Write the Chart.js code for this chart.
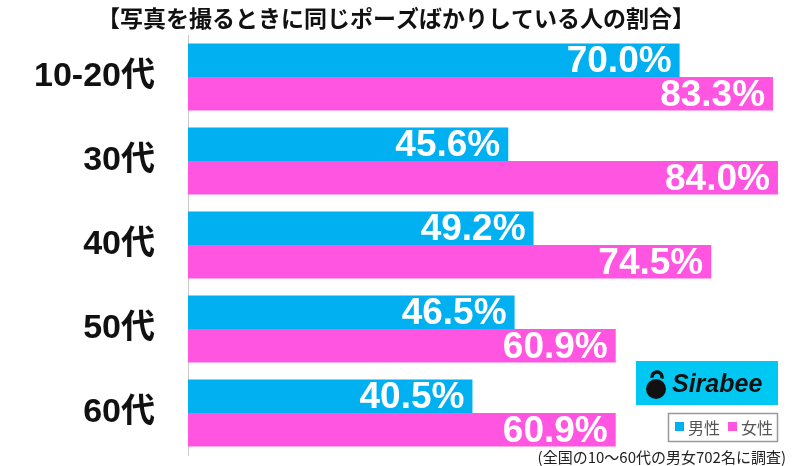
<!DOCTYPE html>
<html>
<head>
<meta charset="utf-8">
<script src="https://cdn.jsdelivr.net/npm/chart.js@4"></script>
<style>
  body { margin: 0; background: #fff; }
  #wrap { width: 800px; height: 466px; }
</style>
</head>
<body>
<div id="wrap"><canvas id="chart"></canvas></div>
<script>
const categories = ['10-20代', '30代', '40代', '50代', '60代']
const male = [70.0, 45.6, 49.2, 46.5, 40.5]
const female = [83.3, 84.0, 74.5, 60.9, 60.9]
const seriesNames = ['男性', '女性']

const title = '【写真を撮るときに同じポーズばかりしている人の割合】'
const note = '(全国の10～60代の男女702名に調査)'
const blue = '#00B0F0'
const pink = '#FF55E1'
const jp = '"Liberation Sans", "Noto Sans CJK JP", sans-serif'

const extras = {
    id: 'extras',
    afterDatasetsDraw(chart) {
        const ctx = chart.ctx
        ctx.save()
        // value labels inside the bar ends
        ctx.font = 'bold 37px ' + jp
        ctx.fillStyle = '#fff'
        ctx.textAlign = 'right'
        ctx.textBaseline = 'middle'
        chart.data.datasets.forEach((ds, i) => {
            chart.getDatasetMeta(i).data.forEach((bar, j) => {
                ctx.fillText(ds.data[j].toFixed(1) + '%', bar.x - 8, bar.y + 2)
            })
        })
        // title
        ctx.fillStyle = '#111'
        ctx.textAlign = 'center'
        ctx.font = 'bold 23px "Noto Sans CJK JP", sans-serif'
        ctx.fillText(title, 396, 18)
        // sirabee logo
        ctx.fillStyle = '#00C8F2'
        ctx.fillRect(636, 361, 142, 44)
        ctx.fillStyle = '#111'
        ctx.beginPath()
        ctx.arc(656, 389, 10, 0, Math.PI * 2)
        ctx.fill()
        ctx.lineWidth = 3.5
        ctx.strokeStyle = '#111'
        ctx.beginPath()
        ctx.arc(657, 377, 5, Math.PI * 0.95, Math.PI * 2.1)
        ctx.stroke()
        ctx.textAlign = 'left'
        ctx.font = 'italic bold 25px "Liberation Sans", sans-serif'
        ctx.fillText('Sirabee', 672, 385)
        // legend box
        ctx.strokeStyle = '#999'
        ctx.lineWidth = 1.5
        ctx.strokeRect(668.5, 413.5, 109, 28)
        ctx.font = '16px "Noto Sans CJK JP", sans-serif'
        ctx.fillStyle = blue
        ctx.fillRect(675, 422, 9, 9)
        ctx.fillStyle = '#555'
        ctx.fillText(seriesNames[0], 688, 428)
        ctx.fillStyle = pink
        ctx.fillRect(728, 422, 9, 9)
        ctx.fillStyle = '#555'
        ctx.fillText(seriesNames[1], 741, 428)
        // footnote
        ctx.fillStyle = '#222'
        ctx.textAlign = 'right'
        ctx.font = '15px "Noto Sans CJK JP", sans-serif'
        ctx.fillText(note, 786, 457)
        ctx.restore()
    }
}

new Chart(document.getElementById('chart'), {
    type: 'bar',
    data: {
        labels: categories,
        datasets: [
            { label: seriesNames[0], data: male, backgroundColor: blue },
            { label: seriesNames[1], data: female, backgroundColor: pink }
        ]
    },
    options: {
        indexAxis: 'y',
        responsive: true,
        maintainAspectRatio: false,
        animation: false,
        events: [],
        layout: { padding: { top: 35, right: 8, bottom: 11, left: 0 } },
        datasets: { bar: { categoryPercentage: 0.8, barPercentage: 1 } },
        scales: {
            x: { display: false, min: 0, max: 86 },
            y: {
                grid: { display: false },
                border: { display: true, color: '#ccc', width: 1 },
                ticks: {
                    color: '#111',
                    padding: 25,
                    font: { family: jp, size: 34, weight: 'bold' }
                },
                afterFit(scale) {
                    scale.width = 188
                    scale.paddingTop = 0
                    scale.paddingBottom = 0
                }
            }
        },
        plugins: {
            legend: { display: false },
            title: { display: false },
            tooltip: { enabled: false }
        }
    },
    plugins: [extras]
})
</script>
</body>
</html>
